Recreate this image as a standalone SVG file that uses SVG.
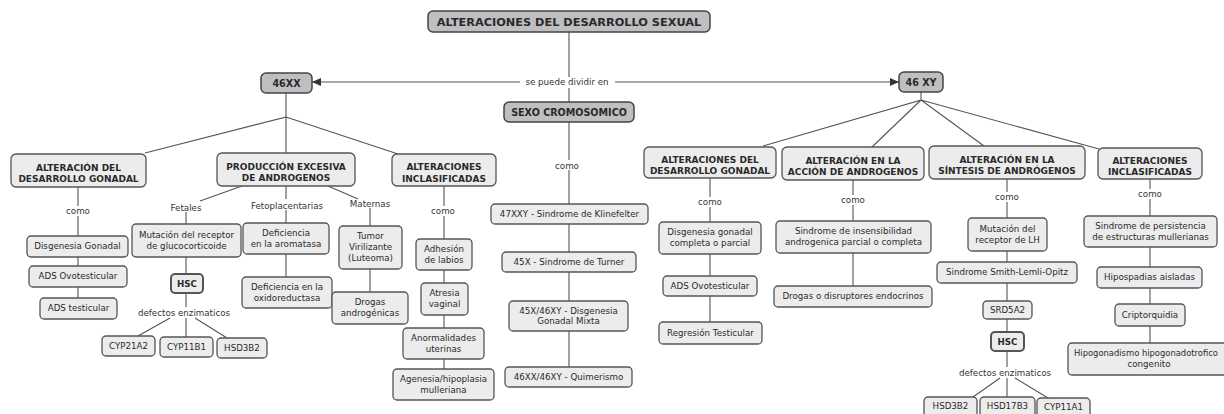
<svg xmlns="http://www.w3.org/2000/svg" width="1224" height="414" viewBox="0 0 1224 414">
<style>
.n rect{fill:#ececec;stroke:#555;stroke-width:1.3}
.m rect{fill:#bfbfc1;stroke:#444;stroke-width:1.5}
.h rect{stroke-width:2}
text{font-family:"DejaVu Sans","Liberation Sans",sans-serif;text-anchor:middle;fill:#2a2a2a}
.t{font-size:8.7px}
.b{font-size:9px;font-weight:bold}
.b1{font-size:9.6px;font-weight:bold}
.b0{font-size:11.3px;font-weight:bold}
.hb{font-size:8.7px;font-weight:bold}
.lbl{font-size:8.7px;fill:#333}
#connectors path{fill:none;stroke:#555;stroke-width:1.1}
</style>
<defs>
<marker id="arr" markerUnits="userSpaceOnUse" markerWidth="10" markerHeight="8" refX="9" refY="4" orient="auto">
<path d="M0,0 L9,4 L0,8 Z" fill="#333"/>
</marker>
</defs>
<rect width="1224" height="414" fill="#fff"/>
<g id="connectors">
<path d="M569,32 V77 M569,88 V102"/>
<path d="M520,82 H312" marker-end="url(#arr)"/>
<path d="M615,82 H899" marker-end="url(#arr)"/>
<path d="M286,93 V117 L145,153 M286,117 V153 M286,117 L398,154"/>
<path d="M242,186 L200,201 M286,186 V199 M328,186 L358,199"/>
<path d="M186,212 V224 M286,210 V223 M370,208 V226"/>
<path d="M286,254 V277 M370,269 V292 M186,257 V274 M186,293 V307"/>
<path d="M170,318 L138,336 M186,318 V337 M195,318 L227,338"/>
<path d="M78,187 V206 M78,216 V236 M78,257 V266 M78,287 V298"/>
<path d="M444,186 V206 M444,216 V239 M444,270 V283 M444,315 V328 M444,359 V369"/>
<path d="M569,122 V160 M569,170 V204 M569,224 V252 M569,272 V301 M569,331 V367"/>
<path d="M921,92 V100 L763,146 M921,100 L872,147 M921,100 L984,146 M921,100 L1099,149"/>
<path d="M710,178 V197 M710,207 V222 M710,254 V276 M710,296 V322"/>
<path d="M853,180 V195 M853,205 V221 M853,253 V286"/>
<path d="M1007,179 V192 M1007,202 V218 M1007,251 V262 M1007,283 V301 M1007,319 V332 M1007,351 V367"/>
<path d="M1000,378 L973,397 M1007,378 V397 M1015,378 L1048,398"/>
<path d="M1150,179 V189 M1150,199 V216 M1150,247 V267 M1150,288 V304 M1150,326 V343"/>
</g>
<g id="labels">
<text class="lbl" x="567" y="85">se puede dividir en</text>
<text class="lbl" x="78" y="213.5">como</text>
<text class="lbl" x="186" y="211">Fetales</text>
<text class="lbl" x="287" y="209">Fetoplacentarias</text>
<text class="lbl" x="370" y="207">Maternas</text>
<text class="lbl" x="184" y="316">defectos enzimaticos</text>
<text class="lbl" x="443" y="213.5">como</text>
<text class="lbl" x="567" y="168.5">como</text>
<text class="lbl" x="710" y="204.5">como</text>
<text class="lbl" x="853" y="203">como</text>
<text class="lbl" x="1007" y="200">como</text>
<text class="lbl" x="1150" y="197">como</text>
<text class="lbl" x="1005" y="375.5">defectos enzimaticos</text>
</g>
<g id="title" class="m"><rect x="428" y="11" width="282" height="21" rx="5"/><text class="b0" x="569" y="25.5">ALTERACIONES DEL DESARROLLO SEXUAL</text></g>
<g id="n46xx" class="m"><rect x="261" y="73" width="51" height="20" rx="5"/><text class="b1" x="286.5" y="86.5">46XX</text></g>
<g id="n46xy" class="m"><rect x="899" y="72" width="44" height="20" rx="5"/><text class="b1" x="921" y="85.8">46 XY</text></g>
<g id="sexo" class="m"><rect x="504" y="102" width="130" height="20" rx="5"/><text class="b1" x="569" y="115.5">SEXO CROMOSOMICO</text></g>

<g id="gon_xx" class="n"><rect x="11" y="154" width="135" height="33" rx="5"/><text class="b" x="78.5" y="170.8">ALTERACIÓN DEL</text><text class="b" x="78.5" y="182">DESARROLLO GONADAL</text></g>
<g id="prod" class="n"><rect x="217" y="153" width="138" height="33" rx="5"/><text class="b" x="286" y="169.5">PRODUCCIÓN EXCESIVA</text><text class="b" x="286" y="180.8">DE ANDROGENOS</text></g>
<g id="incl_xx" class="n"><rect x="392" y="154" width="104" height="32" rx="5"/><text class="b" x="444" y="170.3">ALTERACIONES</text><text class="b" x="444" y="181.6">INCLASIFICADAS</text></g>
<g id="gon_xy" class="n"><rect x="644" y="147" width="132" height="31" rx="5"/><text class="b" x="710" y="162.8">ALTERACIONES DEL</text><text class="b" x="710" y="174.1">DESARROLLO GONADAL</text></g>
<g id="accion" class="n"><rect x="782" y="147" width="142" height="33" rx="5"/><text class="b" x="853" y="163.8">ALTERACIÓN EN LA</text><text class="b" x="853" y="175.1">ACCIÓN DE ANDROGENOS</text></g>
<g id="sintesis" class="n"><rect x="929" y="146" width="156" height="33" rx="5"/><text class="b" x="1007" y="162.8">ALTERACIÓN EN LA</text><text class="b" x="1007" y="174.1">SÍNTESIS DE ANDRÓGENOS</text></g>
<g id="incl_xy" class="n"><rect x="1098" y="148" width="104" height="31" rx="5"/><text class="b" x="1150" y="163.8">ALTERACIONES</text><text class="b" x="1150" y="175.1">INCLASIFICADAS</text></g>

<g id="disg_gon" class="n"><rect x="27" y="236" width="101" height="21" rx="4"/><text class="t" x="77.5" y="249.3">Disgenesia Gonadal</text></g>
<g id="ads_ovo_xx" class="n"><rect x="29" y="266" width="98" height="21" rx="4"/><text class="t" x="78" y="279.3">ADS Ovotesticular</text></g>
<g id="ads_test" class="n"><rect x="40" y="298" width="77" height="21" rx="4"/><text class="t" x="78.5" y="311.3">ADS testicular</text></g>
<g id="mut_gluco" class="n"><rect x="132" y="224" width="109" height="33" rx="4"/><text class="t" x="186.5" y="238">Mutación del receptor</text><text class="t" x="186.5" y="248.8">de glucocorticoide</text></g>
<g id="hsc_xx" class="n h"><rect x="171" y="274" width="32" height="19" rx="4"/><text class="hb" x="187" y="286.7">HSC</text></g>
<g id="cyp21" class="n"><rect x="102" y="336" width="53" height="20" rx="4"/><text class="t" x="128.5" y="348.8">CYP21A2</text></g>
<g id="cyp11b" class="n"><rect x="160" y="337" width="53" height="20" rx="4"/><text class="t" x="186.5" y="349.8">CYP11B1</text></g>
<g id="hsd3b_xx" class="n"><rect x="217" y="338" width="50" height="20" rx="4"/><text class="t" x="242" y="350.8">HSD3B2</text></g>
<g id="def_arom" class="n"><rect x="243" y="223" width="86" height="31" rx="4"/><text class="t" x="286" y="236">Deficiencia</text><text class="t" x="286" y="246.8">en la aromatasa</text></g>
<g id="def_oxi" class="n"><rect x="242" y="277" width="90" height="31" rx="4"/><text class="t" x="287" y="290">Deficiencia en la</text><text class="t" x="287" y="300.8">oxidoreductasa</text></g>
<g id="tumor" class="n"><rect x="339" y="226" width="63" height="43" rx="4"/><text class="t" x="370.5" y="239.2">Tumor</text><text class="t" x="370.5" y="250">Virilizante</text><text class="t" x="370.5" y="260.8">(Luteoma)</text></g>
<g id="drogas_andr" class="n"><rect x="332" y="292" width="76" height="32" rx="4"/><text class="t" x="370" y="305.4">Drogas</text><text class="t" x="370" y="316.2">androgénicas</text></g>
<g id="adhesion" class="n"><rect x="416" y="239" width="56" height="31" rx="4"/><text class="t" x="444" y="252">Adhesión</text><text class="t" x="444" y="262.8">de labios</text></g>
<g id="atresia" class="n"><rect x="421" y="283" width="47" height="32" rx="4"/><text class="t" x="444.5" y="296.4">Atresia</text><text class="t" x="444.5" y="307.2">vaginal</text></g>
<g id="anorm" class="n"><rect x="403" y="328" width="81" height="31" rx="4"/><text class="t" x="443.5" y="341">Anormalidades</text><text class="t" x="443.5" y="351.8">uterinas</text></g>
<g id="agenesia" class="n"><rect x="393" y="369" width="101" height="31" rx="4"/><text class="t" x="443.5" y="382">Agenesia/hipoplasia</text><text class="t" x="443.5" y="392.8">mulleriana</text></g>

<g id="klinefelter" class="n"><rect x="491" y="204" width="157" height="20" rx="4"/><text class="t" x="569.5" y="216.9">47XXY - Sindrome de Klinefelter</text></g>
<g id="turner" class="n"><rect x="502" y="252" width="134" height="20" rx="4"/><text class="t" x="569" y="264.9">45X - Sindrome de Turner</text></g>
<g id="mixta" class="n"><rect x="509" y="301" width="119" height="30" rx="4"/><text class="t" x="568.5" y="313.5">45X/46XY - Disgenesia</text><text class="t" x="568.5" y="324.3">Gonadal Mixta</text></g>
<g id="quimerismo" class="n"><rect x="505" y="367" width="127" height="20" rx="4"/><text class="t" x="568.5" y="379.9">46XX/46XY - Quimerismo</text></g>

<g id="disg_comp" class="n"><rect x="659" y="222" width="102" height="32" rx="4"/><text class="t" x="710" y="235.4">Disgenesia gonadal</text><text class="t" x="710" y="246.2">completa o parcial</text></g>
<g id="ads_ovo_xy" class="n"><rect x="663" y="276" width="94" height="20" rx="4"/><text class="t" x="710" y="288.9">ADS Ovotesticular</text></g>
<g id="regresion" class="n"><rect x="659" y="322" width="103" height="22" rx="4"/><text class="t" x="710.5" y="335.9">Regresión Testicular</text></g>
<g id="insens" class="n"><rect x="776" y="221" width="155" height="32" rx="4"/><text class="t" x="853.5" y="234.4">Sindrome de insensibilidad</text><text class="t" x="853.5" y="245.2">androgenica parcial o completa</text></g>
<g id="disruptores" class="n"><rect x="774" y="286" width="158" height="21" rx="4"/><text class="t" x="853" y="299.4">Drogas o disruptores endocrinos</text></g>
<g id="mut_lh" class="n"><rect x="968" y="218" width="79" height="33" rx="4"/><text class="t" x="1007.5" y="232">Mutación del</text><text class="t" x="1007.5" y="242.8">receptor de LH</text></g>
<g id="slo" class="n"><rect x="937" y="262" width="140" height="21" rx="4"/><text class="t" x="1007" y="275.4">Sindrome Smith-Lemli-Opitz</text></g>
<g id="srd5a2" class="n"><rect x="983" y="301" width="49" height="18" rx="4"/><text class="t" x="1007.5" y="313">SRD5A2</text></g>
<g id="hsc_xy" class="n h"><rect x="991" y="332" width="33" height="19" rx="4"/><text class="hb" x="1007.5" y="344.7">HSC</text></g>
<g id="hsd3b_xy" class="n"><rect x="924" y="397" width="53" height="20" rx="4"/><text class="t" x="950.5" y="409">HSD3B2</text></g>
<g id="hsd17b3" class="n"><rect x="980" y="397" width="55" height="20" rx="4"/><text class="t" x="1007.5" y="409">HSD17B3</text></g>
<g id="cyp11a1" class="n"><rect x="1037" y="398" width="53" height="20" rx="4"/><text class="t" x="1063.5" y="410">CYP11A1</text></g>
<g id="persist" class="n"><rect x="1084" y="216" width="133" height="31" rx="4"/><text class="t" x="1150.5" y="229">Sindrome de persistencia</text><text class="t" x="1150.5" y="239.8">de estructuras mullerianas</text></g>
<g id="hipospadias" class="n"><rect x="1097" y="267" width="105" height="21" rx="4"/><text class="t" x="1149.5" y="280.4">Hipospadias aisladas</text></g>
<g id="cripto" class="n"><rect x="1115" y="304" width="70" height="22" rx="4"/><text class="t" x="1150" y="317.9">Criptorquidia</text></g>
<g id="hipogon" class="n"><rect x="1068" y="343" width="168" height="32" rx="4"/><text class="t" x="1146" y="356.4" style="font-size:8.4px">Hipogonadismo hipogonadotrofico</text><text class="t" x="1149" y="367.2">congenito</text></g>
</svg>
